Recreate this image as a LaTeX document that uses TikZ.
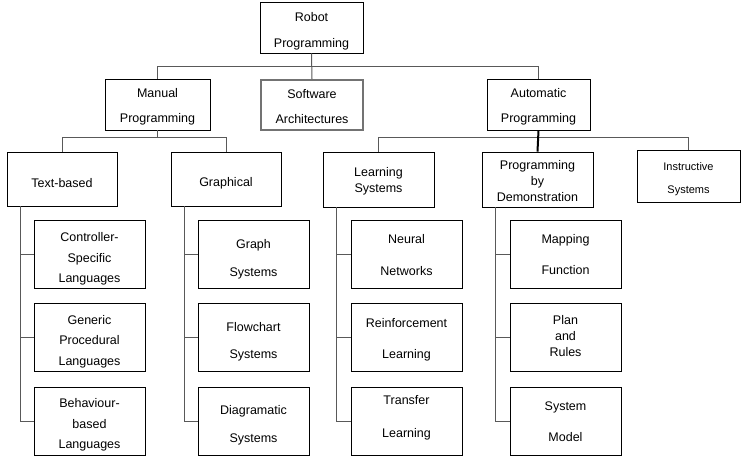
\documentclass[tikz,border=0pt]{standalone}
\usepackage{fontspec}
\setmainfont{Liberation Sans}
\begin{document}
\begin{tikzpicture}[x=1pt,y=-1pt,
 box/.style={draw=black, line width=0.8pt, inner sep=0pt, align=center, anchor=center},
 topbox/.style={box, minimum width=103pt, minimum height=51pt},
 midbox/.style={box, minimum width=110pt, minimum height=54pt},
 leaf/.style={box, minimum width=111pt, minimum height=68pt},
 conn/.style={draw=black!65, line width=1pt},
 sp/.style={font=\fontsize{12.5}{#1}\selectfont},
 th/.style={text height=#1},
]
\useasboundingbox[fill=white] (0,0) rectangle (753,466);
% level 0 and 1
\node[topbox, sp=26, th=43.1pt] (robot) at (311.5,27.5) {Robot\\Programming};
\node[topbox, minimum width=105pt, sp=25, th=38.1pt] (manual) at (157.5,104.5) {Manual\\Programming};
\node[topbox, minimum width=102pt, minimum height=50pt, draw=black!55, line width=1.8pt, sp=25, th=37.1pt] (soft) at (312,105) {Software\\Architectures};
\node[topbox, sp=25, th=38.1pt] (auto) at (538.5,104.5) {Automatic\\Programming};
% level 2
\node[midbox, sp=15, th=17.1pt] (tb) at (62,179) {Text-based};
\node[midbox, sp=15, th=17.1pt] (gr) at (226,179) {Graphical};
\node[midbox, minimum width=111pt, minimum height=55pt, sp=16, th=28.1pt] (ls) at (378.5,179.5) {Learning\\Systems};
\node[midbox, minimum width=111pt, minimum height=55pt, sp=16, th=45.1pt] (pbd) at (537.5,179.5) {Programming\\by\\Demonstration};
\node[box, minimum width=103pt, minimum height=52pt, font=\fontsize{11}{23}\selectfont, th=37pt] (ins) at (688.5,176) {Instructive\\Systems};
% leaves: Text-based
\node[leaf, sp=20.5, th=59.1pt] (c1) at (89.5,254.5) {Controller-\\Specific\\Languages};
\node[leaf, sp=20.5, th=58.1pt] (c2) at (89.5,337.5) {Generic\\Procedural\\Languages};
\node[leaf, sp=20.5, th=58.1pt] (c3) at (89.5,421) {Behaviour-\\based\\Languages};
% leaves: Graphical
\node[leaf, sp=28, th=46.1pt] (g1) at (253.5,254.5) {Graph\\Systems};
\node[leaf, sp=27, th=44.1pt] (g2) at (253.5,337.5) {Flowchart\\Systems};
\node[leaf, sp=28, th=45.1pt] (g3) at (253.5,421) {Diagramatic\\Systems};
% leaves: Learning Systems
\node[leaf, sp=32, th=43.1pt] (l1) at (406.5,254.5) {Neural\\Networks};
\node[leaf, sp=31, th=44.1pt] (l2) at (406.5,337.5) {Reinforcement\\Learning};
\node[leaf, sp=33, th=36.1pt] (l3) at (406.5,421) {Transfer\\Learning};
% leaves: PbD
\node[leaf, sp=31, th=40.1pt] (p1) at (565.5,254.5) {Mapping\\Function};
\node[leaf, sp=16, th=39.1pt] (p2) at (565.5,337.5) {Plan\\and\\Rules};
\node[leaf, sp=31, th=42.1pt] (p3) at (565.5,421) {System\\Model};
% buses
\coordinate (bus1) at (0,66);
\coordinate (bus2) at (0,137);
\draw[conn] (robot.south) -- (soft.north);
\draw[conn] (manual.north) |- (bus1 -| auto.north) -- (auto.north);
\draw[conn] (manual.south) -- (manual.south |- bus2);
\draw[conn] (tb.north) |- (bus2 -| gr.north) -- (gr.north);
\draw[conn] (ls.north) |- (bus2 -| ins.north) -- (ins.north);
\draw[draw=black, line width=2pt] (auto.south) -- (pbd.north);
% trunks
\foreach \p/\a/\b/\c in {tb/c1/c2/c3, gr/g1/g2/g3, ls/l1/l2/l3, pbd/p1/p2/p3}{
  \draw[conn] ([xshift=14pt]\p.south west) |- (\c.west);
  \draw[conn] ([xshift=14pt]\p.south west |- \a.west) -- (\a.west);
  \draw[conn] ([xshift=14pt]\p.south west |- \b.west) -- (\b.west);
}
\end{tikzpicture}
\end{document}
